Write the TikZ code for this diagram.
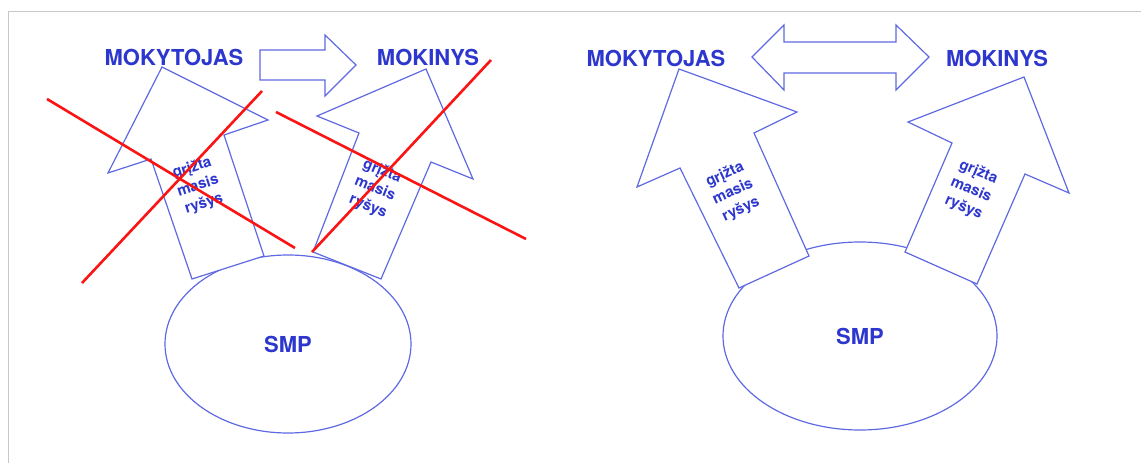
\documentclass[tikz,border=0pt]{standalone}
\usepackage{fontspec}
\setmainfont{TeX Gyre Heros}
\usetikzlibrary{shapes.geometric}
\definecolor{lineblue}{RGB}{95,105,225}
\definecolor{textblue}{RGB}{45,55,205}
\definecolor{crossred}{RGB}{250,20,20}
\definecolor{framegray}{RGB}{200,200,200}
\begin{document}
\begin{tikzpicture}[x=1pt,y=-1pt,
  outline/.style={draw=lineblue,line width=1.2pt,fill=white,line join=miter},
  role/.style={font=\bfseries\fontsize{22}{22}\selectfont,text=textblue,inner sep=0pt},
  hub/.style={ellipse,draw=lineblue,line width=1.2pt,fill=white,inner sep=0pt,
    font=\bfseries\fontsize{22}{22}\selectfont,text=textblue},
  fb/.style={font=\bfseries\fontsize{15}{19}\selectfont,text=textblue,align=center,inner sep=0pt},
  cross/.style={draw=crossred,line width=2.6pt}]
\useasboundingbox (0,0) rectangle (1141,463);
% page frame
\draw[framegray,line width=1.5pt] (1141,11.5) -- (8.5,11.5) -- (8.5,463);

% ---------- left panel: one-way relation ----------
\node[hub,minimum width=246pt,minimum height=178pt] (smpL) at (288,344) {SMP};
\node[role] (teachL) at (174,57) {MOKYTOJAS};
\node[role] (pupilL) at (428,57) {MOKINYS};
% one-way block arrow between the roles
\draw[outline] (260,50) -- (325,50) -- (325,35) -- (356,65) -- (325,96) -- (325,80) -- (260,80) -- cycle;
% feedback arrows
\draw[outline] (162,67) -- (268,120) -- (224,135) -- (264,256) -- (192,279) -- (151,159) -- (108,173) -- cycle;
\draw[outline] (426,69) -- (473,179) -- (431,162) -- (381,279) -- (313,252) -- (359,133) -- (317,116) -- cycle;
\node[fb,rotate=18] (fbL1) at (198,186) {grįžta\\masis\\ryšys};
\node[fb,rotate=-22] (fbL2) at (375,189) {grįžta\\masis\\ryšys};
% crossing out
\coordinate (c1a) at (47,99);   \coordinate (c1b) at (295,248);
\coordinate (c2a) at (82,283);  \coordinate (c2b) at (262,91);
\coordinate (c3a) at (276,112); \coordinate (c3b) at (526,239);
\coordinate (c4a) at (312,252); \coordinate (c4b) at (491,60);
\draw[cross] (c1a) -- (c1b);
\draw[cross] (c2a) -- (c2b);
\draw[cross] (c3a) -- (c3b);
\draw[cross] (c4a) -- (c4b);

% ---------- right panel: two-way relation ----------
\node[hub,minimum width=274pt,minimum height=188pt] (smpR) at (860,336) {SMP};
\node[role] (teachR) at (656,58) {MOKYTOJAS};
\node[role] (pupilR) at (997,58) {MOKINYS};
% two-way block arrow
\draw[outline] (752,57) -- (784,25) -- (784,42) -- (896,42) -- (896,25) -- (929,57) -- (896,90) -- (896,73) -- (784,73) -- (784,90) -- cycle;
% feedback arrows
\draw[outline] (679,69) -- (797,112) -- (754,133) -- (809,256) -- (739,288) -- (680,168) -- (637,187) -- cycle;
\draw[outline] (1024,77) -- (1069,193) -- (1025,174) -- (977,284) -- (905,252) -- (952,143) -- (908,122) -- cycle;
\node[fb,rotate=25] (fbR1) at (733,192) {grįžta\\masis\\ryšys};
\node[fb,rotate=-23] (fbR2) at (971,190) {grįžta\\masis\\ryšys};
\end{tikzpicture}
\end{document}
